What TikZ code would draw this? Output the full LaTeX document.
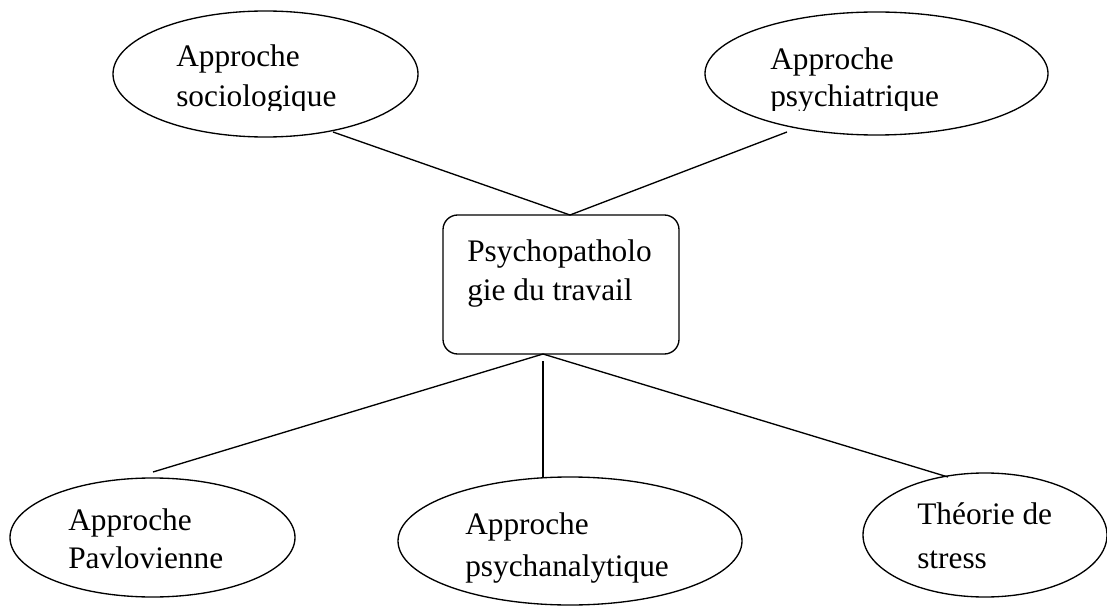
\documentclass[tikz,border=0pt]{standalone}
\usepackage{fontspec}
\setmainfont{Liberation Serif}
\usetikzlibrary{shapes.geometric}
\begin{document}
\begin{tikzpicture}[x=0.75pt,y=-0.75pt,
  oval/.style={draw,ellipse,line width=1pt,inner sep=0pt},
  hub/.style={draw,rectangle,rounded corners=11pt,line width=1pt,inner sep=0pt},
  lbl/.style={anchor=base west,inner sep=0pt,font=\fontsize{23.5}{28}\selectfont},
  link/.style={line width=1pt}]
\useasboundingbox (0,0) rectangle (1107,606);
% shapes
\node[oval,minimum width=228.75pt,minimum height=94.5pt] (soc) at (265.5,74) {};
\node[oval,minimum width=257.25pt,minimum height=92.25pt] (psy) at (876.5,73.5) {};
\node[hub,minimum width=177pt,minimum height=104.25pt] (box) at (561,284.5) {};
\node[oval,minimum width=213.75pt,minimum height=89.25pt] (pav) at (152.5,537.5) {};
\node[oval,minimum width=258pt,minimum height=96pt] (ana) at (570,541) {};
\node[oval,minimum width=183pt,minimum height=93pt] (str) at (985,535) {};
% texts
\node[lbl] (soc1) at (176,67) {Approche};
\begin{scope}
\clip (150,80) rectangle (420,111);
\node[lbl] (soc2) at (176,107) {sociologique};
\end{scope}
\node[lbl] (psy1) at (770,70) {Approche};
\begin{scope}
\clip (740,80) rectangle (1040,111);
\node[lbl] (psy2) at (770,107) {psychiatrique};
\end{scope}
\node[lbl] (box1) at (467,262) {Psychopatholo};
\node[lbl] (box2) at (467,300) {gie du travail};
\node[lbl] (pav1) at (68,530) {Approche};
\node[lbl] (pav2) at (68,568) {Pavlovienne};
\node[lbl] (ana1) at (465,534) {Approche};
\node[lbl] (ana2) at (465,576) {psychanalytique};
\node[lbl] (str1) at (917,524) {Théorie de};
\node[lbl] (str2) at (917,568) {stress};
% connector ends
\coordinate (socE) at (333,132);
\coordinate (psyE) at (787,132);
\coordinate (boxT) at (570,215);
\coordinate (boxB) at (543,354);
\coordinate (vTop) at (543,361);
\coordinate (pavE) at (153,472);
\coordinate (anaE) at (543,477);
\coordinate (strE) at (948,477);
% connectors
\draw[link] (socE) -- (boxT) -- (psyE);
\draw[link] (pavE) -- (boxB) -- (strE);
\draw[link] (vTop) -- (anaE);
\end{tikzpicture}
\end{document}
